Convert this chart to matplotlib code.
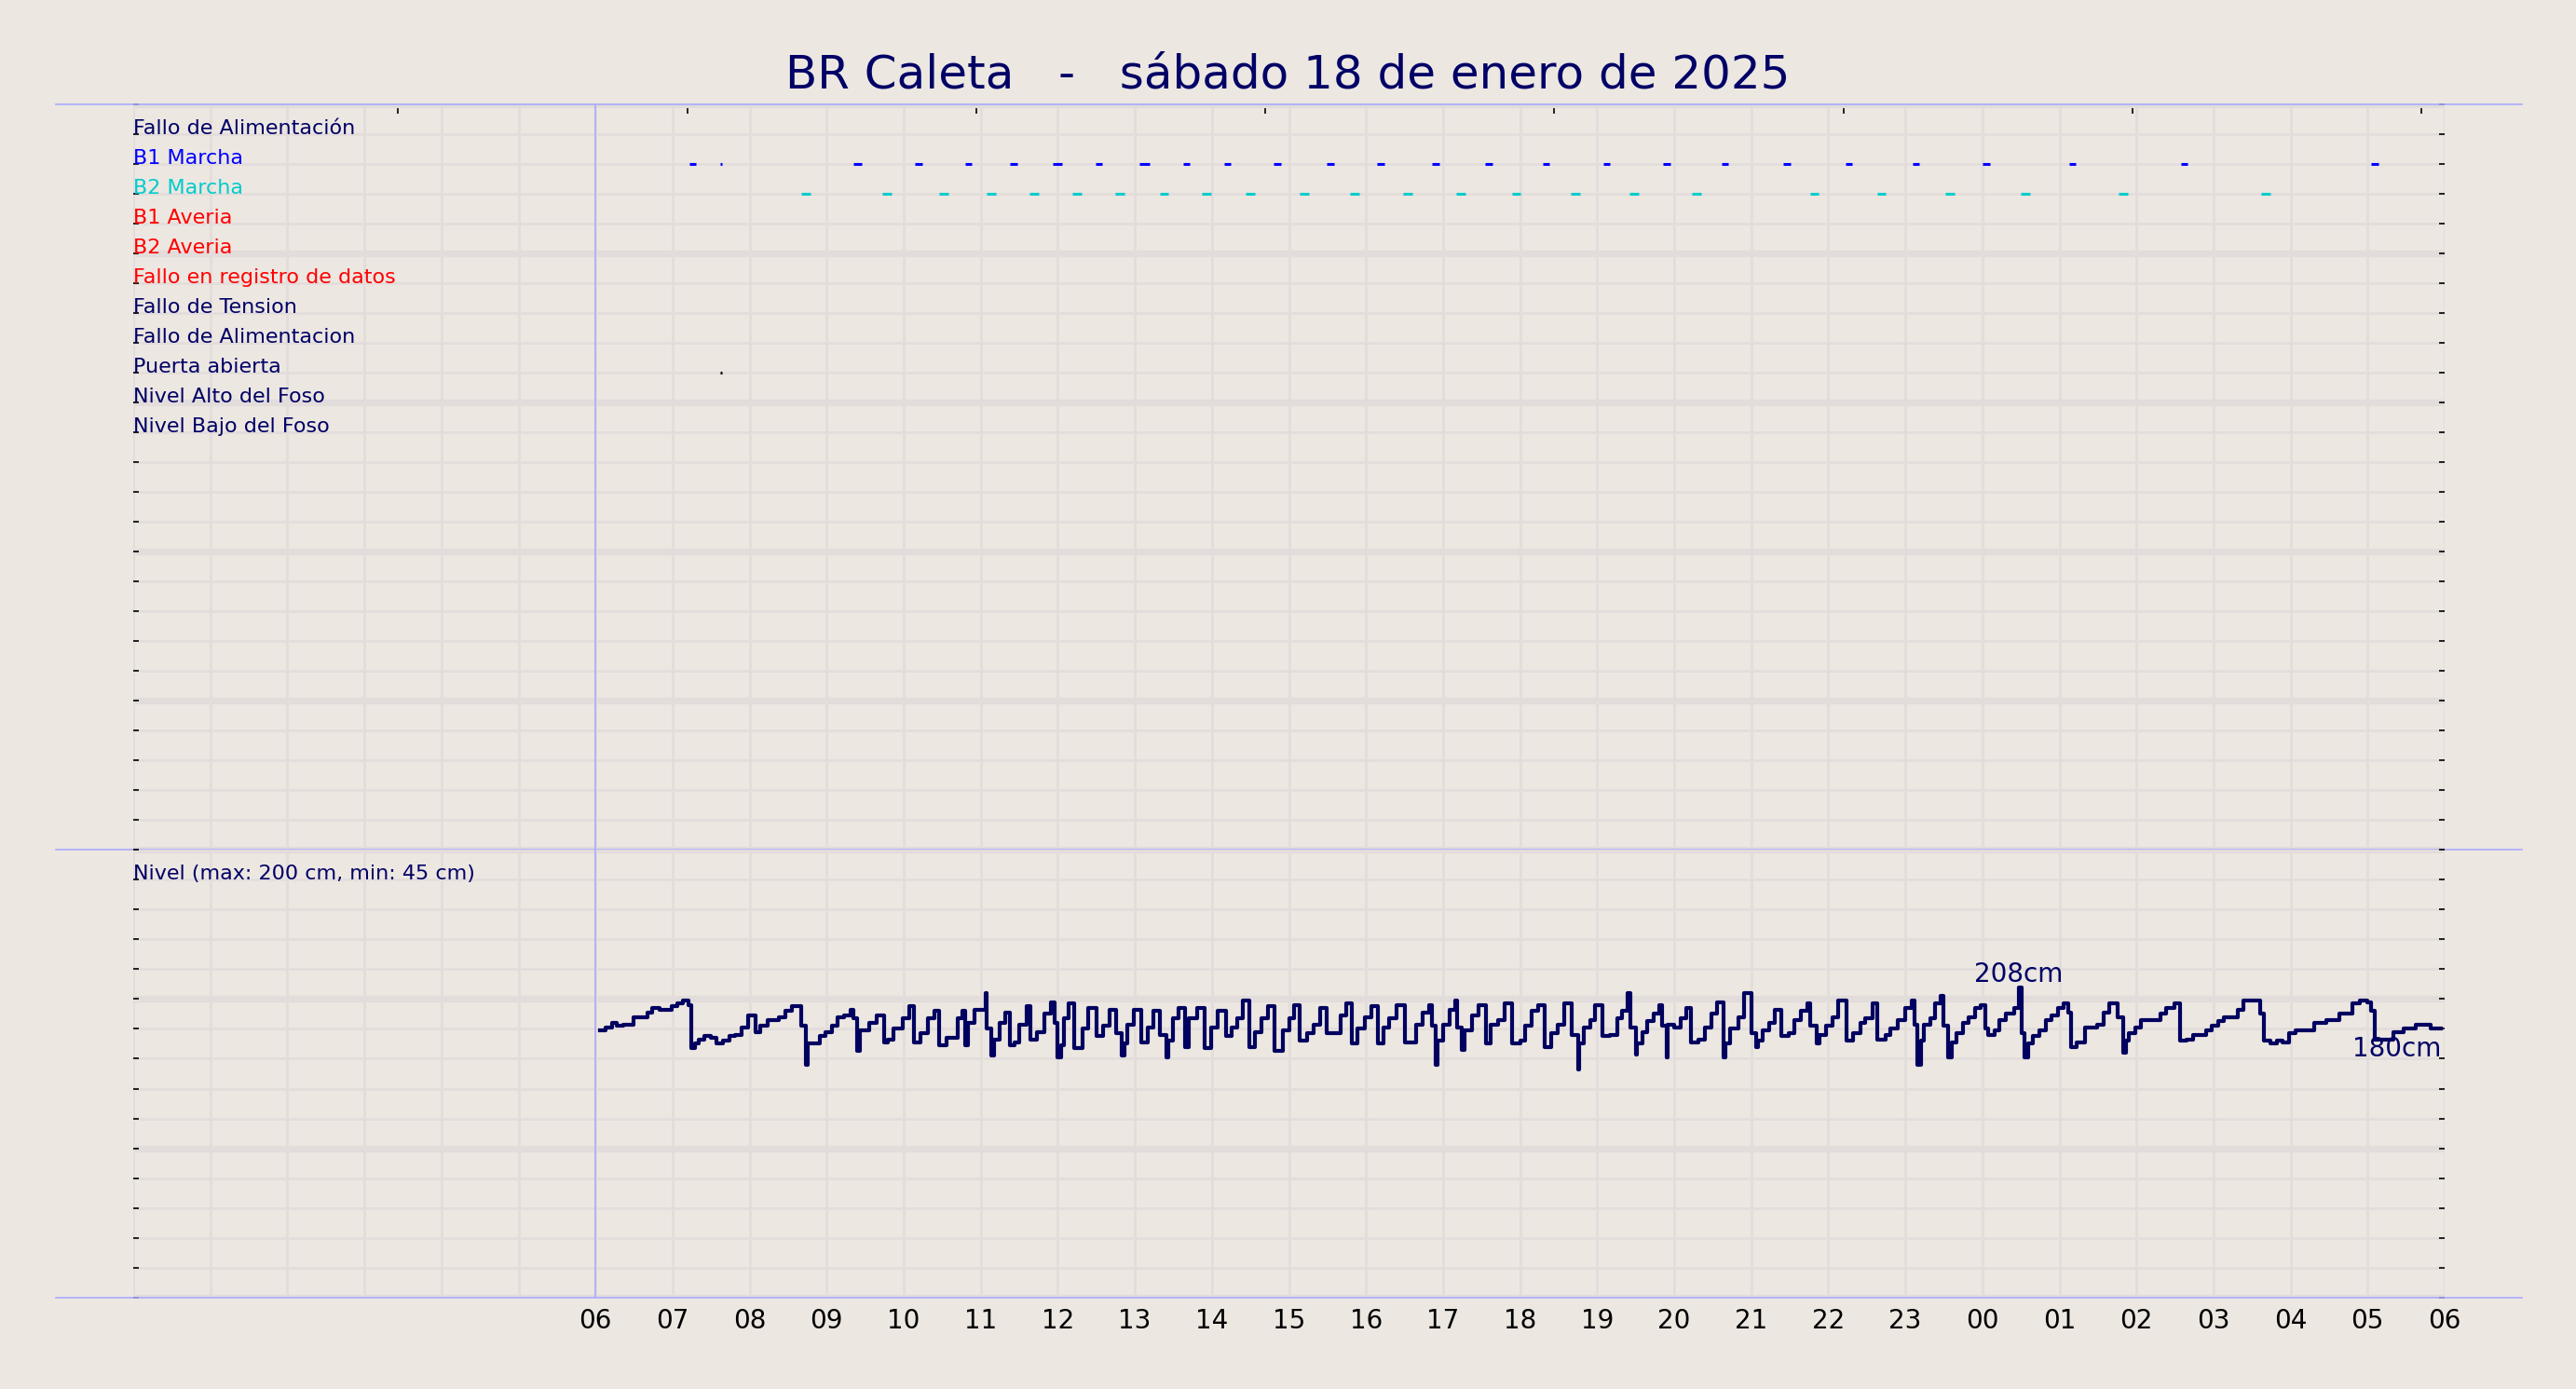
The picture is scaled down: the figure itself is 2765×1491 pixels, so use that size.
import matplotlib
matplotlib.use('Agg')
import matplotlib.pyplot as plt
from matplotlib.ticker import MultipleLocator

BG = '#ece7e1'
GRID = '#e2dcdb'
NAVY = '#000066'
SEP = '#aaaaff'

title = 'BR Caleta   -   sábado 18 de enero de 2025'

# rows of the digital signals, top to bottom
signal_labels = ['Fallo de Alimentación', 'B1 Marcha', 'B2 Marcha', 'B1 Averia', 'B2 Averia',
                 'Fallo en registro de datos', 'Fallo de Tension', 'Fallo de Alimentacion',
                 'Puerta abierta', 'Nivel Alto del Foso', 'Nivel Bajo del Foso']
signal_colors = [NAVY, '#0000ff', '#00cccc', '#ff0000', '#ff0000', '#ff0000',
                 NAVY, NAVY, NAVY, NAVY, NAVY]

# times in hours from 00:00 of the 18th (30 = 06:00 of the 19th)
b1_mid = [7.26, 7.63, 9.40, 10.19, 10.84, 11.43, 11.99, 12.53, 13.13, 13.67, 14.20, 14.85,
          15.54, 16.19, 16.90, 17.59, 18.34, 19.12, 19.90, 20.66, 21.46, 22.27, 23.14,
          24.05, 25.17, 26.62, 29.09]
b1_dur = [0.09, 0.03, 0.10, 0.10, 0.09, 0.10, 0.12, 0.09, 0.13, 0.09, 0.09, 0.10,
          0.10, 0.10, 0.10, 0.10, 0.09, 0.09, 0.10, 0.09, 0.10, 0.09, 0.09,
          0.09, 0.09, 0.09, 0.10]
b2_mid = [8.73, 9.78, 10.52, 11.14, 11.69, 12.25, 12.81, 13.38, 13.93, 14.50, 15.20, 15.85,
          16.54, 17.23, 17.95, 18.72, 19.48, 20.29, 21.82, 22.69, 23.58, 24.56, 25.83, 27.68]
b2_dur = [0.12] * len(b2_mid)
puerta_mid = [7.63]
puerta_dur = [0.03]

top_ticks = [3.43, 7.19, 10.94, 14.69, 18.44, 22.20, 25.95, 29.70]

level_hours = [6.06, 6.13, 6.21, 6.28, 6.36, 6.49, 6.67, 6.73, 6.83, 6.99, 7.06, 7.14, 7.21,
               7.24, 7.29, 7.34, 7.41, 7.50, 7.57, 7.66, 7.74, 7.81, 7.90, 7.98, 8.08, 8.14,
               8.24, 8.38, 8.46, 8.55, 8.67, 8.73, 8.75, 8.91, 8.99, 9.07, 9.14, 9.23, 9.31,
               9.35, 9.39, 9.43, 9.55, 9.65, 9.74, 9.79, 9.87, 9.99, 10.07, 10.13, 10.22,
               10.32, 10.40, 10.46, 10.56, 10.70, 10.76, 10.80, 10.84, 10.92, 11.06, 11.08,
               11.14, 11.17, 11.24, 11.32, 11.38, 11.44, 11.50, 11.60, 11.64, 11.73, 11.83,
               11.91, 11.96, 12.00, 12.04, 12.08, 12.14, 12.21, 12.32, 12.40, 12.50, 12.59,
               12.67, 12.76, 12.83, 12.86, 12.90, 12.99, 13.08, 13.17, 13.24, 13.33, 13.41,
               13.44, 13.49, 13.57, 13.65, 13.70, 13.81, 13.91, 13.99, 14.07, 14.18, 14.26,
               14.33, 14.40, 14.48, 14.56, 14.64, 14.73, 14.81, 14.92, 15.00, 15.07, 15.14,
               15.24, 15.32, 15.40, 15.49, 15.67, 15.74, 15.82, 15.89, 15.98, 16.07, 16.16,
               16.23, 16.30, 16.40, 16.50, 16.65, 16.73, 16.82, 16.86, 16.90, 16.93, 17.00,
               17.08, 17.16, 17.18, 17.24, 17.28, 17.38, 17.46, 17.56, 17.62, 17.72, 17.80,
               17.90, 18.00, 18.07, 18.15, 18.23, 18.32, 18.40, 18.49, 18.57, 18.67, 18.75,
               18.77, 18.83, 18.91, 18.97, 19.07, 19.16, 19.26, 19.32, 19.40, 19.43, 19.50,
               19.52, 19.59, 19.65, 19.73, 19.81, 19.84, 19.90, 19.92, 20.00, 20.08, 20.16,
               20.22, 20.32, 20.40, 20.48, 20.56, 20.64, 20.67, 20.73, 20.83, 20.91, 21.00,
               21.07, 21.09, 21.15, 21.23, 21.31, 21.39, 21.49, 21.56, 21.65, 21.73, 21.77,
               21.85, 21.89, 21.97, 22.05, 22.13, 22.24, 22.32, 22.42, 22.48, 22.58, 22.64,
               22.74, 22.81, 22.90, 23.00, 23.08, 23.12, 23.16, 23.20, 23.24, 23.32, 23.39,
               23.46, 23.50, 23.55, 23.60, 23.66, 23.75, 23.82, 23.90, 23.98, 24.04, 24.08,
               24.16, 24.22, 24.31, 24.41, 24.47, 24.51, 24.55, 24.59, 24.65, 24.74, 24.82,
               24.90, 24.98, 25.06, 25.12, 25.15, 25.22, 25.33, 25.49, 25.58, 25.65, 25.76,
               25.83, 25.86, 25.90, 25.98, 26.06, 26.31, 26.39, 26.49, 26.57, 26.65, 26.74,
               26.90, 26.98, 27.06, 27.14, 27.31, 27.39, 27.61, 27.65, 27.74, 27.82, 27.89,
               27.98, 28.06, 28.31, 28.47, 28.63, 28.80, 28.90, 29.00, 29.04, 29.09, 29.33,
               29.47, 29.63, 29.82, 29.95]
level_cm = [179, 181, 184, 182, 183, 188, 191, 194, 193, 195, 197, 199, 196,
            167, 170, 173, 175, 174, 170, 172, 175, 176, 181, 189, 178, 182,
            186, 188, 192, 195, 182, 156, 170, 175, 178, 182, 188, 189, 193,
            187, 165, 179, 184, 189, 171, 173, 180, 187, 195, 171, 177,
            187, 192, 169, 174, 187, 192, 169, 184, 193, 204, 180,
            162, 173, 184, 191, 169, 171, 183, 195, 173, 178, 190,
            198, 184, 161, 169, 187, 197, 167, 180, 194, 175, 182,
            193, 177, 162, 170, 183, 193, 171, 181, 192, 176, 161,
            172, 187, 194, 168, 187, 194, 167, 181, 192, 175, 181,
            187, 199, 168, 178, 187, 195, 165, 179, 187, 196, 172,
            177, 183, 194, 177, 189, 197, 170, 180, 188, 195, 170,
            181, 187, 196, 171, 183, 191, 196, 182, 156, 172, 183,
            193, 199, 181, 166, 179, 189, 196, 170, 183, 186, 197,
            170, 172, 182, 192, 196, 168, 177, 183, 197, 176, 153,
            170, 181, 186, 196, 175, 176, 187, 192, 204, 181, 163,
            170, 178, 185, 190, 196, 182, 161, 183, 181, 187, 194,
            171, 173, 181, 190, 198, 161, 170, 180, 188, 204, 177,
            168, 172, 179, 184, 193, 175, 177, 186, 192, 197, 182,
            170, 176, 182, 188, 199, 172, 177, 184, 187, 197, 173,
            176, 180, 186, 194, 199, 183, 156, 172, 183, 187, 197,
            202, 182, 161, 171, 177, 184, 188, 194, 196, 180, 176,
            179, 186, 190, 194, 208, 177, 161, 170, 175, 179, 186,
            189, 194, 197, 191, 168, 171, 181, 183, 191, 197, 188,
            164, 172, 177, 181, 186, 190, 194, 197, 172, 173, 176,
            179, 182, 185, 188, 193, 199, 190, 172, 170, 172, 171,
            177, 179, 184, 186, 190, 197, 199, 198, 192, 173, 178,
            180, 183, 180, 180]

level_label = 'Nivel (max: 200 cm, min: 45 cm)'
hours = list(range(0, 31))
hour_labels = ['' if h < 6 else '%02d' % (h % 24) for h in hours]

fig = plt.figure(figsize=(13.825, 7.455), dpi=200, facecolor=BG)
ax_top = fig.add_axes([0.05172, 0.38833, 0.89729, 0.53655])
ax_bot = fig.add_axes([0.05172, 0.06573, 0.89729, 0.32260])

for ax in (ax_top, ax_bot):
    ax.set_facecolor(BG)
    ax.set_axisbelow(True)
    ax.set_xlim(0, 30)
    ax.set_xticks(hours)
    ax.set_xticklabels(hour_labels)
    for s in ax.spines.values():
        s.set_visible(False)
    ax.grid(axis='x', which='major', color=GRID, lw=1.0)
    ax.grid(axis='y', which='major', color=GRID, lw=2.6)
    ax.grid(axis='y', which='minor', color=GRID, lw=0.9)
    ax.tick_params(axis='y', which='both', direction='in', length=2, width=0.6,
                   left=True, right=True, labelleft=False, color='black')
    ax.tick_params(axis='x', length=0, pad=4, labelsize=10, colors='black')
    ax.axvline(6, color=SEP, lw=0.6, zorder=3)

# signals panel
ax_top.set_ylim(0, 25)
ax_top.yaxis.set_major_locator(MultipleLocator(5))
ax_top.yaxis.set_minor_locator(MultipleLocator(1))
ax_top.tick_params(axis='x', labelbottom=False)

for i, (lab, col) in enumerate(zip(signal_labels, signal_colors)):
    ax_top.text(0, 24 - i, lab, color=col, fontsize=8, va='baseline', ha='left')

def bars(mids, durs, y, col):
    starts = [m - d / 2 for m, d in zip(mids, durs)]
    ends = [m + d / 2 for m, d in zip(mids, durs)]
    ax_top.hlines([y] * len(mids), starts, ends, colors=col, lw=1.1, zorder=4)

bars(b1_mid, b1_dur, 23, '#0000ff')
bars(b2_mid, b2_dur, 22, '#00cccc')
bars(puerta_mid, puerta_dur, 16, 'black')

sec = ax_top.secondary_xaxis('top')
sec.set_xticks(top_ticks)
sec.set_xticklabels([])
sec.tick_params(direction='in', length=3.5, width=0.6, color='black')
sec.spines['top'].set_visible(False)

# level panel
ax_bot.set_ylim(0, 300)
ax_bot.yaxis.set_major_locator(MultipleLocator(100))
ax_bot.yaxis.set_minor_locator(MultipleLocator(20))
ax_bot.text(0, 280, level_label, color=NAVY, fontsize=8, va='baseline', ha='left')
ax_bot.step(level_hours, level_cm, where='post', color='#000060', lw=1.5, zorder=5)

imax = level_cm.index(max(level_cm))
ax_bot.text(level_hours[imax], level_cm[imax], '%dcm' % level_cm[imax], color=NAVY,
            fontsize=10, ha='center', va='bottom')
ax_bot.text(level_hours[-1], level_cm[-1] - 5, '%dcm' % level_cm[-1], color=NAVY,
            fontsize=10, ha='right', va='top')

# light blue frame lines running past the plot area
for ax, y in ((ax_top, 25), (ax_top, 0), (ax_bot, 0)):
    ax.plot([-1, 31], [y, y], color=SEP, lw=0.6, clip_on=False, zorder=3)

fig.text(0.5, 0.9457, title, ha='center', va='center', fontsize=18, color=NAVY)

fig.savefig('out.png', dpi=200, facecolor=BG)
